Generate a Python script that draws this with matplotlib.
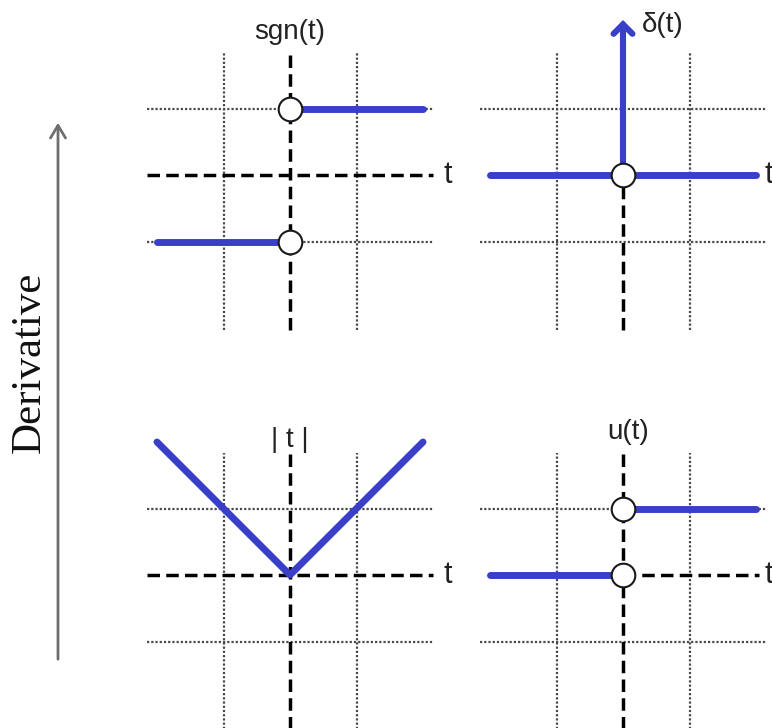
import matplotlib
matplotlib.use("Agg")
import matplotlib.pyplot as plt
from matplotlib.patches import FancyArrowPatch
import numpy as np

# ---- signals (t in units, value in units) ----
sgn_t_neg = [-2.0, 0.0]
sgn_v_neg = [-1.0, -1.0]
sgn_t_pos = [0.0, 2.0]
sgn_v_pos = [1.0, 1.0]
sgn_open = [(0.0, 1.0), (0.0, -1.0)]

delta_t = [-2.0, 2.0]
delta_v = [0.0, 0.0]
delta_impulse = 2.33          # drawn height of the impulse arrow
delta_open = [(0.0, 0.0)]

abs_t = [-2.0, 0.0, 2.0]
abs_v = [2.0, 0.0, 2.0]

step_t_neg = [-2.0, 0.0]
step_v_neg = [0.0, 0.0]
step_t_pos = [0.0, 2.0]
step_v_pos = [1.0, 1.0]
step_open = [(0.0, 1.0), (0.0, 0.0)]

titles = ["sgn(t)", "δ(t)", "| t |", "u(t)"]
grid_vals = [-1, 1]

BLUE = "#3a3fca"
W, H = 772, 728
fig = plt.figure(figsize=(W / 100, H / 100), dpi=100)
fig.patch.set_facecolor("white")

UNIT = 66.5       # pixels per unit
HALF = 2.5        # axes half-range in units


def make_axes(cx, cy):
    size = 2 * HALF * UNIT
    ax = fig.add_axes([(cx - size / 2) / W, (H - cy - size / 2) / H, size / W, size / H])
    ax.set_xlim(-HALF, HALF)
    ax.set_ylim(-HALF, HALF)
    ax.axis("off")
    return ax


def grid(ax, xr=(-2.15, 2.15), yr=(-2.33, 1.83)):
    for g in grid_vals:
        ax.plot([g, g], yr, color="#4a4a4a", lw=1.6, ls=(0, (1, 0.9)), zorder=1)
        ax.plot(xr, [g, g], color="#4a4a4a", lw=1.6, ls=(0, (1, 0.9)), zorder=1)


def dashed(ax, xs, ys):
    ax.plot(xs, ys, color="black", lw=2.5, ls=(0, (3.6, 1.8)), zorder=2)


def blue(ax, xs, ys):
    ax.plot(xs, ys, color=BLUE, lw=5.0, solid_capstyle="round", zorder=3)


def open_circles(ax, pts):
    for x, y in pts:
        ax.plot(x, y, "o", ms=17, mfc="white", mec="#1a1a1a", mew=1.5, zorder=5)


tfont = dict(family="Liberation Sans", size=20, color="#222222")
lblfont = dict(family="Liberation Sans", size=22, color="#222222")

# sgn(t)
ax = make_axes(290, 175)
grid(ax)
dashed(ax, [-2.15, 2.15], [0, 0])
dashed(ax, [0, 0], [-2.33, 1.83])
blue(ax, sgn_t_neg, sgn_v_neg)
blue(ax, sgn_t_pos, sgn_v_pos)
open_circles(ax, sgn_open)
ax.text(0, 2.15, titles[0], ha="center", va="center", **tfont)
ax.text(2.31, 0, "t", ha="left", va="center", **lblfont)

# delta(t)
ax = make_axes(623, 175)
grid(ax)
dashed(ax, [0, 0], [-2.33, 0])
blue(ax, delta_t, delta_v)
arr = FancyArrowPatch((0, 0), (0, delta_impulse), arrowstyle="->,head_length=0.4,head_width=0.4",
                      mutation_scale=17, color=BLUE, lw=4.4, shrinkA=0, shrinkB=0, zorder=4,
                      capstyle="round", joinstyle="miter")
ax.add_patch(arr)
open_circles(ax, delta_open)
ax.text(0.28, 2.25, titles[1], ha="left", va="center", **tfont)
ax.text(2.13, 0, "t", ha="left", va="center", clip_on=False, **lblfont)

# |t|
ax = make_axes(290, 575)
grid(ax)
dashed(ax, [-2.15, 2.15], [0, 0])
dashed(ax, [0, 0], [-2.4, 1.83])
blue(ax, abs_t, abs_v)
ax.text(0, 2.03, titles[2], ha="center", va="center", **tfont)
ax.text(2.31, 0, "t", ha="left", va="center", **lblfont)

# u(t)
ax = make_axes(623, 575)
grid(ax)
dashed(ax, [0, 2.05], [0, 0])
dashed(ax, [0, 0], [-2.4, 1.83])
blue(ax, step_t_neg, step_v_neg)
blue(ax, step_t_pos, step_v_pos)
open_circles(ax, step_open)
ax.text(0.07, 2.15, titles[3], ha="center", va="center", **tfont)
ax.text(2.13, 0, "t", ha="left", va="center", **lblfont)

# derivative direction
fig.add_artist(FancyArrowPatch((58 / W, 1 - 662 / H), (58 / W, 1 - 120 / H),
                               transform=fig.transFigure, arrowstyle="->,head_length=0.5,head_width=0.3",
                               mutation_scale=18, color="#6e6e6e", lw=2.0))
fig.text(30 / W, 1 - 362 / H, "Derivative", rotation=90, ha="center", va="center",
         family="Liberation Serif", size=31, color="#111111")

fig.savefig("out.png", dpi=100, facecolor="white")
